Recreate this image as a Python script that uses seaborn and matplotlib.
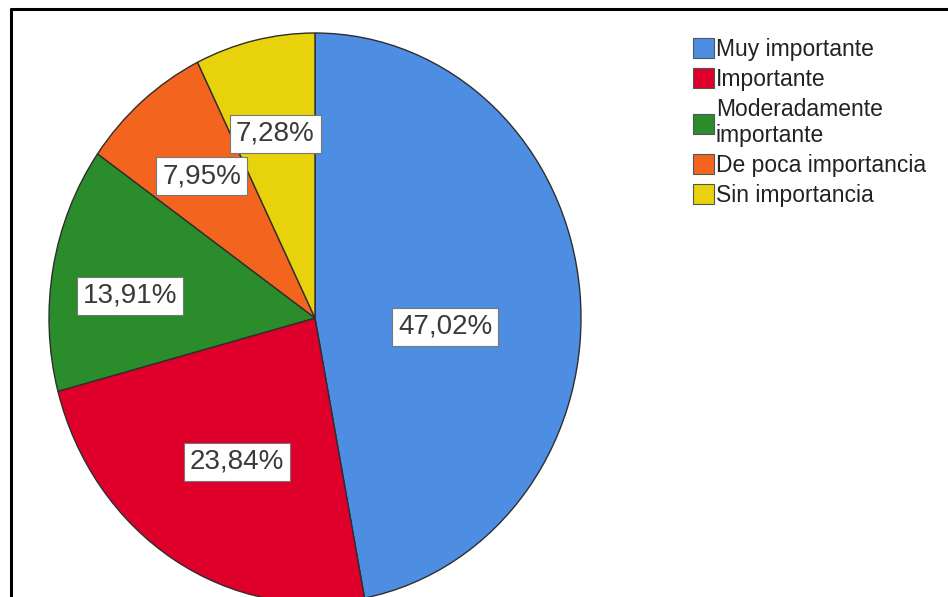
import matplotlib
matplotlib.use("Agg")
import matplotlib.pyplot as plt
from matplotlib.lines import Line2D
from matplotlib.patches import Patch
import numpy as np
import seaborn as sns

# Response categories and their shares (%)
categories = ["Muy importante", "Importante", "Moderadamente\nimportante",
              "De poca importancia", "Sin importancia"]
shares = [47.02, 23.84, 13.91, 7.95, 7.28]
slice_colors = ["#4d8ee2", "#de002a", "#2a8c2a", "#f3641e", "#e8d20c"]

# Where each percentage box sits inside its slice (fraction of radius, angular nudge in degrees)
label_radius = [0.49, 0.584, 0.70, 0.655, 0.663]
label_nudge = [-9.0, 2.0, 3.8, 0.0, 0.0]

sns.set_theme(style="white")
plt.rcParams["font.family"] = ["Liberation Sans", "DejaVu Sans"]

W, H = 948, 597
fig = plt.figure(figsize=(W / 100, H / 100), dpi=100)
fig.patch.set_facecolor("white")

# Pie drawn in a slightly taller-than-wide box, so it comes out as an ellipse
ax = fig.add_axes([49 / W, -6 / H, 532 / W, 570 / H])
palette = sns.color_palette(slice_colors)
wedges, _ = ax.pie(shares, colors=palette, startangle=90, counterclock=False,
                   wedgeprops=dict(edgecolor="#2e2e2e", linewidth=1.0))
ax.set_aspect("auto")
ax.set_xlim(-1, 1)
ax.set_ylim(-1, 1)
ax.axis("off")

for w, v, r, dn in zip(wedges, shares, label_radius, label_nudge):
    mid = np.deg2rad((w.theta1 + w.theta2) / 2 + dn)
    ax.text(r * np.cos(mid), r * np.sin(mid), f"{v:.2f}%".replace(".", ","),
            ha="center", va="center", fontsize=20, color="#3a3a3a",
            bbox=dict(boxstyle="square,pad=0.22", fc="white", ec="#777777", lw=0.8))

handles = [Patch(facecolor=c, edgecolor="#555555", linewidth=0.8) for c in palette]
fig.legend(handles, categories, loc="upper left",
           bbox_to_anchor=(693 / W, 1 - 38 / H), bbox_transform=fig.transFigure,
           frameon=False, fontsize=16.5, labelspacing=0.3, handlelength=0.9,
           handleheight=0.95, handletextpad=0.1, borderpad=0, borderaxespad=0,
           labelcolor="#222222")

# Frame lines along the top and left edges
fig.add_artist(Line2D([11 / W, 1], [1 - 9 / H, 1 - 9 / H], color="black", lw=2.2,
                      transform=fig.transFigure))
fig.add_artist(Line2D([11 / W, 11 / W], [0, 1 - 9 / H], color="black", lw=2.2,
                      transform=fig.transFigure))

fig.savefig("out.png", dpi=100)
